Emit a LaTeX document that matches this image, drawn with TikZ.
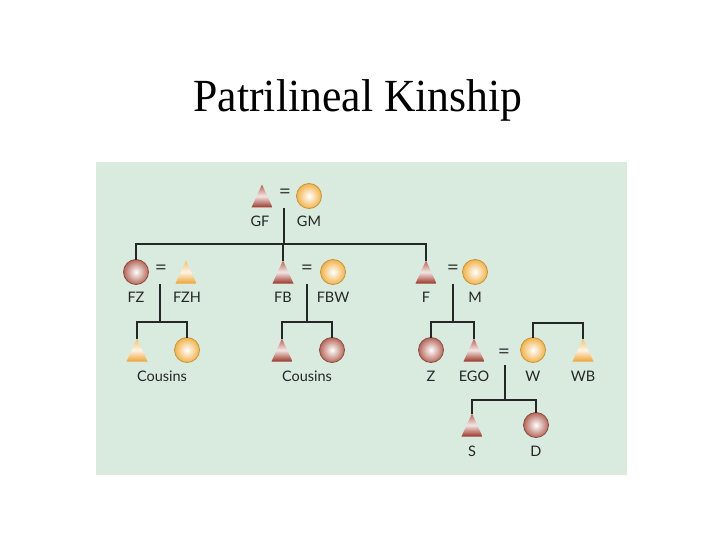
\documentclass[tikz,border=0pt]{standalone}
\usepackage{fontspec}
\setmainfont{Liberation Serif}
\newfontfamily\lblfont{Lato}
\usetikzlibrary{calc}
\definecolor{bg}{HTML}{D9EBDF}
\definecolor{brownC}{HTML}{B5675A}
\definecolor{brownD}{HTML}{8E4A40}
\definecolor{brownT}{HTML}{9C3426}
\definecolor{brownTop}{HTML}{B85E50}
\definecolor{orangeC}{HTML}{F2B24A}
\definecolor{orangeD}{HTML}{C8923A}
\definecolor{orangeT}{HTML}{EFA234}
\definecolor{orangeTop}{HTML}{F3C070}
\tikzset{
  sym/.style={inner sep=0pt, outer sep=0pt},
  fcirc/.style={sym, circle, minimum size=25pt, draw=#1D, line width=0.8pt, shading=radial, inner color=white, outer color=#1C},
  mtri/.style={sym, rectangle, minimum width=21pt, minimum height=23pt,
    path picture={\shade[top color=#1Top, bottom color=#1T, middle color=white!88!#1T]
      (path picture bounding box.south west) -- (path picture bounding box.south east) -- (path picture bounding box.north) -- cycle;}},
  lbl/.style={font=\lblfont\fontsize{14.5}{16}\selectfont, inner sep=0pt, text=black!85},
  eqs/.style={font=\lblfont\fontsize{21}{22}\selectfont, inner sep=0pt, text=black!75},
  ln/.style={draw=black!85, line width=1.1pt},
}
\begin{document}
\begin{tikzpicture}[x=1pt,y=-1pt]
\useasboundingbox (0,0) rectangle (720,540);
\fill[white] (0,0) rectangle (720,540);
\node[anchor=base, font=\fontsize{46}{50}\selectfont, inner sep=0pt, xscale=0.95] (title) at (358,112) {Patrilineal Kinship};
\fill[bg] (96,162) rectangle (627,475);

% generation 1
\node[mtri=brown] (GF) at (262,196) {};
\node[fcirc=orange] (GM) at (309,196) {};
\node[eqs] (eq1) at (285,194) {=};
\node[lbl] (lGF) at (260,221) {GF};
\node[lbl] (lGM) at (309,221) {GM};
\coordinate (e1) at (284,208);

% generation 2
\node[fcirc=brown] (FZ) at (136,272) {};
\node[mtri=orange] (FZH) at (186,272) {};
\node[eqs] (eq2) at (161,270) {=};
\node[lbl] (lFZ) at (136,297) {FZ};
\node[lbl] (lFZH) at (187,297) {FZH};
\coordinate (e2) at (160,284);

\node[mtri=brown] (FB) at (283,272) {};
\node[fcirc=orange] (FBW) at (333,272) {};
\node[eqs] (eq3) at (307,270) {=};
\node[lbl] (lFB) at (283,297) {FB};
\coordinate (e3) at (307,284);
\node[lbl] (lFBW) at (333,297) {FBW};

\node[mtri=brown] (F) at (426,272) {};
\node[fcirc=orange] (M) at (475,272) {};
\node[eqs] (eq4) at (453,270) {=};
\node[lbl] (lF) at (426,297) {F};
\node[lbl] (lM) at (475,297) {M};
\coordinate (e4) at (453,284);

% generation 3
\node[mtri=orange] (C1) at (137,350) {};
\node[fcirc=orange] (C2) at (187,350) {};
\node[lbl] (lC1) at (162,376) {Cousins};
\node[mtri=brown] (C3) at (282,350) {};
\node[fcirc=brown] (C4) at (332,350) {};
\node[lbl] (lC2) at (307,376) {Cousins};

\node[fcirc=brown] (Z) at (431,350) {};
\node[mtri=brown] (EGO) at (474,350) {};
\node[eqs] (eq5) at (504,354) {=};
\node[fcirc=orange] (W) at (533,350) {};
\node[mtri=orange] (WB) at (583,350) {};
\node[lbl] (lZ) at (431,376) {Z};
\node[lbl] (lEGO) at (474,376) {EGO};
\node[lbl] (lW) at (533,376) {W};
\node[lbl] (lWB) at (583,376) {WB};
\coordinate (e5) at (505,365);

% generation 4
\node[mtri=brown] (S) at (472,425) {};
\node[fcirc=brown] (D) at (536,425) {};
\node[lbl] (lS) at (472,451) {S};
\node[lbl] (lD) at (536,451) {D};

% bars
\coordinate (b1) at (0,244);
\coordinate (b2) at (0,322);
\coordinate (b3) at (0,323);
\coordinate (b4) at (0,400);

\draw[ln] (e1) -- (e1 |- b1);
\draw[ln] (FZ.north) -- (FZ.north |- b1) -- (F.north |- b1) -- (F.north);
\draw[ln] (FB.north) -- (FB.north |- b1);

\draw[ln] (e2) -- (e2 |- b2);
\draw[ln] (C1.north) -- (C1.north |- b2) -- (C2.north |- b2) -- (C2.north);
\draw[ln] (e3) -- (e3 |- b2);
\draw[ln] (C3.north) -- (C3.north |- b2) -- (C4.north |- b2) -- (C4.north);
\draw[ln] (e4) -- (e4 |- b2);
\draw[ln] (Z.north) -- (Z.north |- b2) -- (EGO.north |- b2) -- (EGO.north);
\draw[ln] (W.north) -- (W.north |- b3) -- (WB.north |- b3) -- (WB.north);

\draw[ln] (e5) -- (e5 |- b4);
\draw[ln] (S.north) -- (S.north |- b4) -- (D.north |- b4) -- (D.north);
\end{tikzpicture}
\end{document}
